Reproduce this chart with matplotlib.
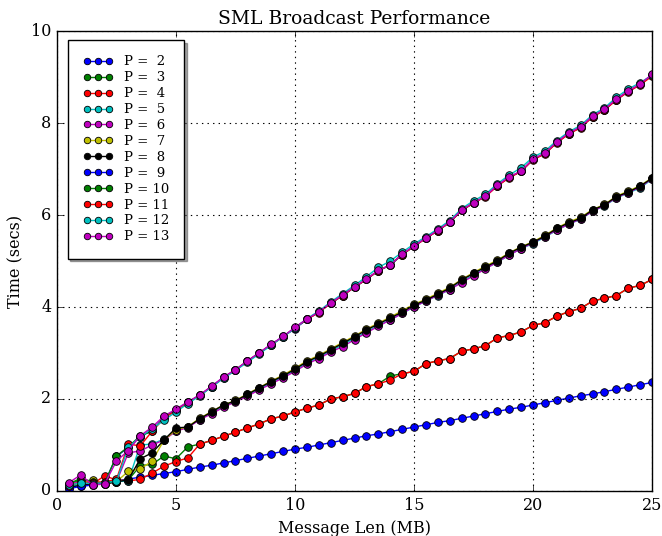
import numpy as np
import matplotlib
matplotlib.use("Agg")
import matplotlib.pyplot as plt

plt.style.use('classic')
plt.rcParams['font.family'] = ['DejaVu Serif']

# message length (MB), one sample every 0.5 MB
msg_len = np.arange(0.5, 25.01, 0.5)

procs = [2, 3, 4, 5, 6, 7, 8, 9, 10, 11, 12, 13]
colors = ['b', 'g', 'r', 'c', 'm', 'y', 'k', 'b', 'g', 'r', 'c', 'm']

t_p2 = [0.07, 0.10, 0.14, 0.17, 0.22, 0.26,
        0.30, 0.34, 0.38, 0.42, 0.47, 0.52, 0.56, 0.61, 0.66, 0.71,
        0.76, 0.81, 0.86, 0.91, 0.95, 1.00, 1.05, 1.10, 1.15, 1.20,
        1.24, 1.29, 1.34, 1.39, 1.44, 1.49, 1.53, 1.58, 1.63, 1.68,
        1.73, 1.78, 1.82, 1.87, 1.92, 1.97, 2.02, 2.07, 2.11, 2.16,
        2.21, 2.26, 2.31, 2.36]
t_p3 = [0.14, 0.25, 0.18, 0.18, 0.22, 0.24,
        0.55, 0.58, 0.76, 0.70, 0.96, 1.02, 1.10, 1.19, 1.28, 1.37,
        1.46, 1.57, 1.63, 1.72, 1.80, 1.87, 2.00, 2.05, 2.12, 2.27,
        2.33, 2.50, 2.55, 2.60, 2.77, 2.83, 2.88, 3.04, 3.09, 3.16,
        3.33, 3.38, 3.46, 3.60, 3.66, 3.80, 3.90, 3.97, 4.13, 4.19,
        4.25, 4.41, 4.47, 4.60]
t_p4 = [0.10, 0.13, 0.15, 0.33, 0.24, 0.22,
        0.25, 0.39, 0.54, 0.64, 0.72, 1.02, 1.10, 1.19, 1.28, 1.37,
        1.46, 1.57, 1.63, 1.72, 1.80, 1.87, 2.00, 2.05, 2.12, 2.27,
        2.33, 2.41, 2.55, 2.60, 2.77, 2.83, 2.88, 3.04, 3.09, 3.16,
        3.33, 3.38, 3.46, 3.60, 3.66, 3.80, 3.90, 3.97, 4.13, 4.19,
        4.25, 4.41, 4.47, 4.60]
t_p5 = [0.10, 0.15, 0.17, 0.16, 0.20, 0.22,
        1.00, 1.02, 1.13, 1.30, 1.40, 1.55, 1.70, 1.84, 1.95, 2.08,
        2.22, 2.35, 2.48, 2.62, 2.78, 2.90, 3.04, 3.18, 3.32, 3.46,
        3.60, 3.72, 3.86, 4.00, 4.13, 4.25, 4.38, 4.55, 4.70, 4.84,
        4.97, 5.13, 5.27, 5.38, 5.52, 5.67, 5.80, 5.91, 6.08, 6.20,
        6.37, 6.48, 6.59, 6.78]
t_p6 = [0.15, 0.20, 0.15, 0.16, 0.20, 0.83,
        0.87, 1.00, 1.11, 1.30, 1.38, 1.55, 1.68, 1.82, 1.94, 2.06,
        2.20, 2.33, 2.46, 2.60, 2.76, 2.88, 3.02, 3.14, 3.29, 3.44,
        3.58, 3.72, 3.86, 4.01, 4.13, 4.26, 4.38, 4.53, 4.68, 4.83,
        4.98, 5.13, 5.27, 5.40, 5.53, 5.68, 5.80, 5.92, 6.08, 6.21,
        6.38, 6.49, 6.61, 6.79]
t_p7 = [0.12, 0.18, 0.23, 0.16, 0.20, 0.43,
        0.48, 0.65, 1.11, 1.33, 1.40, 1.58, 1.73, 1.87, 1.97, 2.11,
        2.25, 2.39, 2.52, 2.67, 2.83, 2.95, 3.09, 3.23, 3.37, 3.52,
        3.65, 3.78, 3.92, 4.06, 4.17, 4.30, 4.43, 4.60, 4.75, 4.89,
        5.02, 5.18, 5.31, 5.42, 5.56, 5.72, 5.85, 5.95, 6.12, 6.23,
        6.41, 6.52, 6.64, 6.81]
t_p8 = [0.08, 0.12, 0.15, 0.15, 0.20, 0.24,
        0.70, 0.83, 1.11, 1.37, 1.39, 1.57, 1.72, 1.87, 1.96, 2.10,
        2.24, 2.38, 2.50, 2.65, 2.81, 2.93, 3.07, 3.21, 3.35, 3.50,
        3.63, 3.76, 3.89, 4.04, 4.15, 4.28, 4.41, 4.59, 4.73, 4.87,
        5.00, 5.17, 5.30, 5.41, 5.54, 5.71, 5.83, 5.93, 6.11, 6.22,
        6.40, 6.50, 6.63, 6.80]
t_p9 = [0.05, 0.10, 0.13, 0.17, 0.75, 0.95,
        1.18, 1.32, 1.60, 1.76, 1.93, 2.08, 2.27, 2.47, 2.63, 2.82,
        3.00, 3.18, 3.36, 3.53, 3.73, 3.89, 4.08, 4.25, 4.43, 4.60,
        4.79, 4.91, 5.14, 5.32, 5.50, 5.66, 5.84, 6.10, 6.26, 6.41,
        6.64, 6.82, 6.95, 7.21, 7.34, 7.58, 7.77, 7.91, 8.14, 8.29,
        8.51, 8.69, 8.84, 9.05]
t_p10 = [0.15, 0.28, 0.20, 0.17, 0.76, 0.96,
         1.20, 1.30, 1.60, 1.76, 1.93, 2.08, 2.27, 2.47, 2.63, 2.82,
         3.00, 3.18, 3.35, 3.55, 3.73, 3.89, 4.08, 4.25, 4.43, 4.60,
         4.79, 4.91, 5.14, 5.32, 5.50, 5.66, 5.84, 6.10, 6.26, 6.41,
         6.64, 6.82, 6.95, 7.21, 7.34, 7.58, 7.77, 7.91, 8.14, 8.29,
         8.51, 8.69, 8.84, 9.05]
t_p11 = [0.10, 0.20, 0.18, 0.20, 0.25, 1.02,
         0.98, 1.30, 1.58, 1.75, 1.92, 2.08, 2.27, 2.46, 2.63, 2.82,
         3.00, 3.18, 3.35, 3.55, 3.73, 3.88, 4.08, 4.25, 4.43, 4.60,
         4.79, 4.92, 5.14, 5.32, 5.49, 5.66, 5.84, 6.10, 6.26, 6.40,
         6.63, 6.81, 6.95, 7.20, 7.33, 7.57, 7.76, 7.90, 8.13, 8.28,
         8.50, 8.68, 8.83, 9.02]
t_p12 = [0.12, 0.18, 0.16, 0.18, 0.21, 0.95,
         1.18, 1.35, 1.54, 1.72, 1.90, 2.07, 2.26, 2.45, 2.62, 2.80,
         2.98, 3.17, 3.35, 3.54, 3.75, 3.91, 4.11, 4.29, 4.47, 4.66,
         4.86, 5.00, 5.19, 5.37, 5.53, 5.70, 5.88, 6.14, 6.31, 6.45,
         6.68, 6.87, 7.03, 7.26, 7.39, 7.62, 7.81, 7.95, 8.18, 8.33,
         8.56, 8.74, 8.88, 9.04]
t_p13 = [0.18, 0.35, 0.13, 0.15, 0.65, 0.88,
         1.20, 1.39, 1.63, 1.78, 1.94, 2.09, 2.28, 2.48, 2.64, 2.83,
         3.01, 3.19, 3.36, 3.56, 3.74, 3.89, 4.09, 4.26, 4.44, 4.61,
         4.80, 4.91, 5.15, 5.33, 5.50, 5.67, 5.85, 6.11, 6.27, 6.41,
         6.65, 6.83, 6.96, 7.22, 7.35, 7.59, 7.78, 7.92, 8.15, 8.30,
         8.52, 8.70, 8.85, 9.06]

times = [t_p2, t_p3, t_p4, t_p5, t_p6, t_p7, t_p8,
         t_p9, t_p10, t_p11, t_p12, t_p13]

fig = plt.figure(figsize=(6.62, 5.36), dpi=100, facecolor='white')
ax = fig.add_axes([0.086, 0.084, 0.899, 0.858])

for p, t, c in zip(procs, times, colors):
    ax.plot(msg_len, t, '-o', color=c, lw=1.0, markersize=5.5,
            markeredgecolor='k', markeredgewidth=0.6,
            label='P = %2d' % p)

ax.set_xlim(0, 25)
ax.set_ylim(0, 10)
ax.set_xticks([0, 5, 10, 15, 20, 25])
ax.set_yticks([0, 2, 4, 6, 8, 10])
ax.tick_params(labelsize=11.5, direction='in', length=4)
ax.grid(True, color='k', linestyle=':', linewidth=0.8)

ax.set_title('SML Broadcast Performance', fontsize=13.5)
ax.set_xlabel('Message Len (MB)', fontsize=11.5)
ax.set_ylabel('Time (secs)', fontsize=11.5)

leg = ax.legend(loc='upper left', bbox_to_anchor=(0.018, 0.98),
                borderaxespad=0, numpoints=3, fontsize=9.5,
                labelspacing=0.22, handlelength=2.3, handletextpad=0.8,
                borderpad=1.15, markerscale=0.85,
                shadow=True, fancybox=False, frameon=True)
leg.get_frame().set_edgecolor('k')
leg.get_frame().set_linewidth(1.0)

fig.savefig('out.png', dpi=100, facecolor='white')
